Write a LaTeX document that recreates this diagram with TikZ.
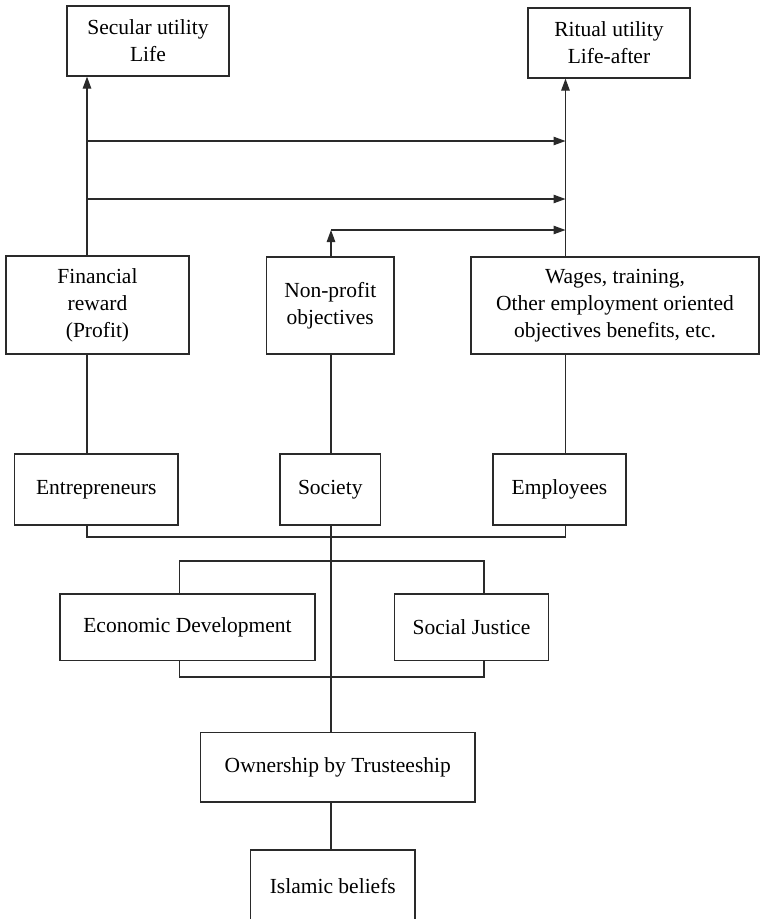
\documentclass[tikz,border=0pt]{standalone}
\usepackage{fontspec}
\setmainfont{Liberation Serif}
\newfontfamily\boxfont{Liberation Serif}
\usetikzlibrary{arrows.meta}
\definecolor{ink}{HTML}{2A2A2A}
\tikzset{
  box/.style={draw=ink, line width=1.2pt, inner sep=0pt, align=center,
    font=\boxfont\fontsize{21.5}{27}\selectfont, text=black},
  wire/.style={draw=ink, line width=1.2pt},
  arr/.style={wire, -{Triangle[length=12pt,width=8.5pt]}}
}
\begin{document}
\begin{tikzpicture}[x=1pt,y=-1pt]
\clip (0,0) rectangle (761,919);
\useasboundingbox (0,0) rectangle (761,919);
% columns
\coordinate (xL) at (87,0);
\coordinate (xM) at (331,0);
\coordinate (xR) at (565.5,0);
% boxes
\node[box, minimum width=162pt, minimum height=70pt] (sec) at (148,41) {Secular utility\\Life};
\node[box, minimum width=162pt, minimum height=70pt] (rit) at (609,43) {Ritual utility\\Life-after};
\node[box, minimum width=183pt, minimum height=98pt] (fin) at (97.5,305) {Financial\\reward\\(Profit)};
\node[box, minimum width=127.5pt, minimum height=97pt] (npo) at (330.25,305.5) {Non-profit\\objectives};
\node[box, minimum width=288pt, minimum height=97pt] (wag) at (615,305.5) {Wages, training,\\Other employment oriented\\objectives benefits, etc.};
\node[box, minimum width=163.4pt, minimum height=71pt] (ent) at (96.3,489.5) {Entrepreneurs};
\node[box, minimum width=100.5pt, minimum height=71pt] (soc) at (330.25,489.5) {Society};
\node[box, minimum width=133pt, minimum height=71pt] (emp) at (559.5,489.5) {Employees};
\node[box, minimum width=255pt, minimum height=66.7pt] (ed) at (187.5,627.3) {Economic Development};
\node[box, minimum width=154pt, minimum height=66.7pt] (sj) at (471.5,627.3) {Social Justice};
\node[box, minimum width=274.3pt, minimum height=69.3pt] (own) at (337.8,767.3) {Ownership by Trusteeship};
\node[box, minimum width=164.3pt, minimum height=72pt] (isl) at (332.8,886) {Islamic beliefs};
% helper coordinates
\coordinate (a1) at (87,141);
\coordinate (a2) at (87,199);
\coordinate (c3) at (331,230);
\coordinate (bus) at (87,537);
\coordinate (bt) at (179.6,561);
\coordinate (bb) at (179.6,677);
% upward arrows
\draw[arr] (fin.north -| xL) -- (sec.south -| xL);
\draw[arr] (wag.north -| xR) -- (rit.south -| xR);
% horizontal arrows
\draw[arr] (a1) -- (a1 -| xR);
\draw[arr] (a2) -- (a2 -| xR);
\draw[arr] (npo.north -| xM) -- (c3);
\draw[arr] (c3) -- (c3 -| xR);
% verticals between rows
\draw[wire] (fin.south -| xL) -- (ent.north -| xL);
\draw[wire] (npo.south -| xM) -- (soc.north -| xM);
\draw[wire] (wag.south -| xR) -- (emp.north -| xR);
% bus under stakeholders
\draw[wire] (ent.south -| xL) -- (bus) -- (bus -| xR) -- (emp.south -| xR);
% central trunk
\draw[wire] (soc.south -| xM) -- (own.north -| xM);
% brackets
\draw[wire] (ed.north -| bt) -- (bt) -- (bt -| 484,0) -- (sj.north -| 484,0);
\draw[wire] (ed.south -| bb) -- (bb) -- (bb -| 484,0) -- (sj.south -| 484,0);
% bottom link
\draw[wire] (own.south -| xM) -- (isl.north -| xM);
\end{tikzpicture}
\end{document}
